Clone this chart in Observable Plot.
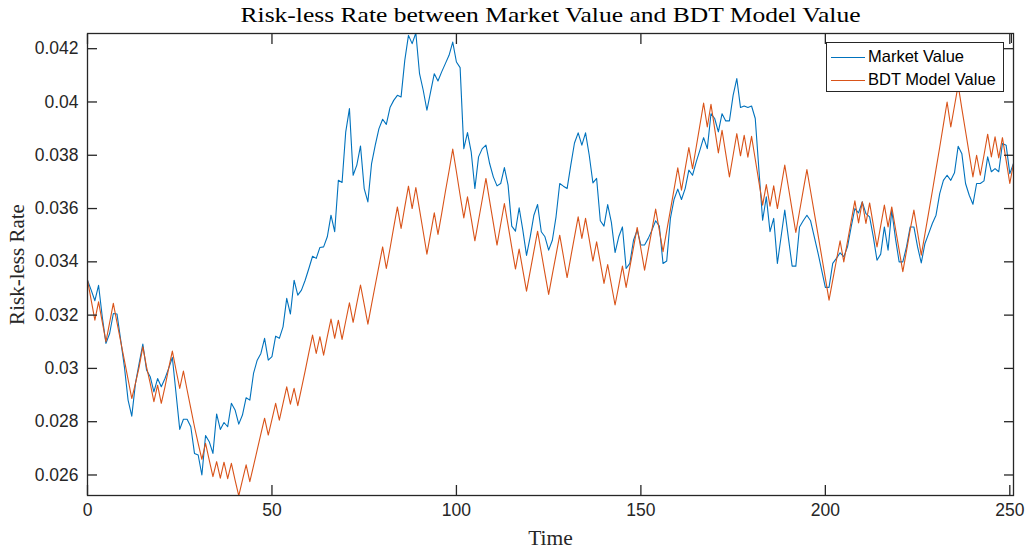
<!DOCTYPE html>
<html><head><meta charset="utf-8">
<script src="https://cdn.jsdelivr.net/npm/d3@7"></script>
<script src="https://cdn.jsdelivr.net/npm/@observablehq/plot@0.6"></script>
<style>
body{margin:0;background:#fff;}
#wrap{position:relative;width:1030px;height:551px;overflow:hidden;}
.legend{position:absolute;left:826px;top:42px;width:176px;height:48px;border:1.3px solid #262626;background:#fff;font-family:"Liberation Sans",Arial,sans-serif;font-size:16.5px;color:#000;}
.legend .row{position:absolute;left:0;height:20px;line-height:20px;white-space:nowrap;}
.legend .sw{display:inline-block;width:34px;height:0;border-top:1.2px solid;vertical-align:middle;margin-left:4px;margin-right:3px;}
.ghost{position:absolute;left:825px;top:33px;width:185px;height:9px;border:1.3px solid #262626;border-bottom:none;}
</style></head>
<body><div id="wrap"></div>
<script>
const titleText = "Risk-less Rate between Market Value and BDT Model Value";
const xLabel = "Time";
const yLabel = "Risk-less Rate";
const seriesNames = ["Market Value", "BDT Model Value"];
const seriesColors = ["#0072BD", "#D95319"];
const xTicks = [0, 50, 100, 150, 200, 250];
const xTickLabels = ["0", "50", "100", "150", "200", "250"];
const yTicks = [0.026, 0.028, 0.030, 0.032, 0.034, 0.036, 0.038, 0.040, 0.042];
const yTickLabels = ["0.026", "0.028", "0.03", "0.032", "0.034", "0.036", "0.038", "0.04", "0.042"];
const xDomain = [0, 251];
const yDomain = [0.02523, 0.04257];

const marketValue = [
0.03331,0.03294,0.03254,0.03312,0.03194,0.03094,0.03131,0.03206,0.03204,0.03106,
0.03006,0.02881,0.02821,0.02944,0.03019,0.03091,0.02994,0.02969,0.02912,0.02962,
0.02931,0.02962,0.03000,0.03041,0.02906,0.02771,0.02809,0.02809,0.02781,0.02681,
0.02675,0.02600,0.02748,0.02725,0.02681,0.02829,0.02771,0.02797,0.02781,0.02869,
0.02844,0.02791,0.02825,0.02890,0.02881,0.02981,0.03031,0.03056,0.03113,0.03031,
0.03044,0.03121,0.03113,0.03156,0.03263,0.03204,0.03331,0.03275,0.03294,0.03331,
0.03375,0.03421,0.03413,0.03454,0.03456,0.03494,0.03575,0.03513,0.03706,0.03698,
0.03888,0.03975,0.03725,0.03763,0.03835,0.03675,0.03625,0.03769,0.03838,0.03900,
0.03935,0.03916,0.03979,0.04006,0.04025,0.04019,0.04156,0.04250,0.04219,0.04259,
0.04106,0.04044,0.03969,0.04038,0.04106,0.04079,0.04113,0.04144,0.04175,0.04225,
0.04150,0.04129,0.03825,0.03885,0.03813,0.03675,0.03794,0.03825,0.03838,0.03769,
0.03719,0.03685,0.03694,0.03754,0.03688,0.03534,0.03515,0.03603,0.03519,0.03424,
0.03494,0.03575,0.03615,0.03513,0.03494,0.03444,0.03481,0.03569,0.03694,0.03684,
0.03675,0.03763,0.03846,0.03884,0.03838,0.03884,0.03800,0.03696,0.03713,0.03554,
0.03534,0.03615,0.03548,0.03435,0.03494,0.03531,0.03375,0.03394,0.03481,0.03519,
0.03463,0.03463,0.03488,0.03519,0.03554,0.03534,0.03394,0.03403,0.03563,0.03635,
0.03673,0.03634,0.03675,0.03744,0.03725,0.03775,0.03819,0.03866,0.03825,0.03956,
0.03938,0.03888,0.03956,0.03929,0.03929,0.04025,0.04088,0.03979,0.03985,0.03979,
0.03985,0.03938,0.03744,0.03556,0.03644,0.03513,0.03563,0.03394,0.03494,0.03594,
0.03488,0.03384,0.03384,0.03531,0.03554,0.03575,0.03554,0.03494,0.03434,0.03369,
0.03304,0.03304,0.03394,0.03413,0.03434,0.03419,0.03456,0.03531,0.03600,0.03584,
0.03625,0.03581,0.03569,0.03494,0.03406,0.03429,0.03531,0.03444,0.03594,0.03488,
0.03400,0.03400,0.03456,0.03531,0.03531,0.03456,0.03396,0.03469,0.03506,0.03544,
0.03575,0.03656,0.03706,0.03725,0.03706,0.03734,0.03834,0.03806,0.03694,0.03650,
0.03616,0.03694,0.03694,0.03704,0.03794,0.03738,0.03750,0.03738,0.03844,0.03838,
0.03731,0.03769
];

const bdtModelValue = [
0.03331,0.03256,0.03181,0.03250,0.03175,0.03100,0.03172,0.03244,0.03172,0.03101,
0.03030,0.02959,0.02887,0.02944,0.03006,0.03081,0.03006,0.02944,0.02875,0.02937,
0.02869,0.02931,0.03000,0.03065,0.02994,0.02925,0.02990,0.02919,0.02850,0.02781,
0.02719,0.02659,0.02719,0.02656,0.02594,0.02650,0.02588,0.02648,0.02586,0.02644,
0.02581,0.02522,0.02581,0.02638,0.02575,0.02634,0.02694,0.02754,0.02813,0.02750,
0.02809,0.02869,0.02806,0.02869,0.02931,0.02866,0.02925,0.02860,0.02925,0.02991,
0.03059,0.03125,0.03056,0.03119,0.03050,0.03119,0.03185,0.03113,0.03181,0.03109,
0.03178,0.03246,0.03173,0.03244,0.03313,0.03240,0.03166,0.03240,0.03313,0.03385,
0.03456,0.03375,0.03450,0.03529,0.03606,0.03525,0.03606,0.03684,0.03600,0.03679,
0.03596,0.03513,0.03429,0.03506,0.03584,0.03503,0.03581,0.03663,0.03741,0.03823,
0.03738,0.03650,0.03565,0.03644,0.03563,0.03479,0.03556,0.03634,0.03713,0.03629,
0.03546,0.03463,0.03541,0.03619,0.03538,0.03454,0.03373,0.03448,0.03369,0.03290,
0.03365,0.03440,0.03515,0.03435,0.03356,0.03278,0.03353,0.03426,0.03500,0.03421,
0.03341,0.03418,0.03494,0.03569,0.03488,0.03563,0.03484,0.03403,0.03475,0.03398,
0.03319,0.03390,0.03314,0.03238,0.03310,0.03384,0.03304,0.03379,0.03454,0.03529,
0.03449,0.03369,0.03445,0.03521,0.03598,0.03518,0.03438,0.03516,0.03594,0.03673,
0.03753,0.03669,0.03749,0.03829,0.03750,0.03831,0.03913,0.03996,0.03906,0.03991,
0.03900,0.03809,0.03894,0.03806,0.03719,0.03800,0.03881,0.03798,0.03875,0.03793,
0.03871,0.03785,0.03699,0.03613,0.03690,0.03609,0.03685,0.03600,0.03681,0.03763,
0.03679,0.03594,0.03510,0.03589,0.03668,0.03746,0.03665,0.03584,0.03503,0.03421,
0.03339,0.03256,0.03331,0.03406,0.03479,0.03400,0.03476,0.03553,0.03629,0.03546,
0.03625,0.03544,0.03621,0.03539,0.03456,0.03535,0.03613,0.03531,0.03606,0.03525,
0.03444,0.03363,0.03441,0.03521,0.03594,0.03510,0.03425,0.03505,0.03585,0.03665,
0.03748,0.03830,0.03915,0.04000,0.03906,0.03985,0.04063,0.03975,0.03890,0.03805,
0.03719,0.03800,0.03725,0.03800,0.03879,0.03794,0.03869,0.03790,0.03866,0.03781,
0.03694,0.03769
];

const time = marketValue.map((_, i) => i);

const axisColor = "#262626";
const tickFont = "'Liberation Sans', Arial, sans-serif";
const serifFont = "'Liberation Serif', 'Times New Roman', serif";

const chart = Plot.plot({
  width: 1030,
  height: 551,
  marginLeft: 87,
  marginRight: 17,
  marginTop: 33,
  marginBottom: 56,
  style: {background: "#fff", overflow: "visible"},
  x: {domain: xDomain, label: null},
  y: {domain: yDomain, label: null},
  marks: [
    Plot.line(marketValue, {x: (d, i) => time[i], y: d => d, stroke: seriesColors[0], strokeWidth: 1.1, clip: true}),
    Plot.line(bdtModelValue, {x: (d, i) => time[i], y: d => d, stroke: seriesColors[1], strokeWidth: 1.1, clip: true}),
    Plot.frame({stroke: axisColor, strokeWidth: 1.3}),
    Plot.axisX({anchor: "bottom", ticks: xTicks, tickSize: -10, tickPadding: 18, tickFormat: d => xTickLabels[xTicks.indexOf(d)], fontSize: 17.5, fontFamily: tickFont, fill: axisColor, stroke: axisColor, strokeWidth: 1.3, label: null}),
    Plot.axisX({anchor: "top", ticks: xTicks, tickSize: -10, tickFormat: () => "", stroke: axisColor, strokeWidth: 1.3, label: null}),
    Plot.axisY({anchor: "left", ticks: yTicks, tickSize: -10, tickPadding: 19, tickFormat: d => yTickLabels[yTicks.findIndex(t => Math.abs(t - d) < 1e-9)], fontSize: 17.5, fontFamily: tickFont, fill: axisColor, stroke: axisColor, strokeWidth: 1.3, label: null}),
    Plot.axisY({anchor: "right", ticks: yTicks, tickSize: -10, tickFormat: () => "", stroke: axisColor, strokeWidth: 1.3, label: null}),
    Plot.text([titleText], {text: d => d, frameAnchor: "top", dy: -19, fontSize: 22, fontFamily: serifFont, fill: "#000", lineAnchor: "middle", textAnchor: "middle"}),
    Plot.text([xLabel], {text: d => d, frameAnchor: "bottom", dy: 43, fontSize: 21.5, fontFamily: serifFont, fill: axisColor, lineAnchor: "middle", textAnchor: "middle"}),
    Plot.text([yLabel], {text: d => d, frameAnchor: "left", dx: -70, rotate: -90, fontSize: 21, fontFamily: serifFont, fill: axisColor, lineAnchor: "middle", textAnchor: "middle"})
  ]
});

const wrap = document.getElementById("wrap");
wrap.appendChild(chart);

// stretch the title to the width of the LaTeX-rendered original
chart.querySelectorAll("text").forEach(t => {
  if (t.textContent === titleText) {
    t.setAttribute("textLength", 620);
    t.setAttribute("lengthAdjust", "spacingAndGlyphs");
  }
});

const ghost = document.createElement("div");
ghost.className = "ghost";
wrap.appendChild(ghost);

const legend = document.createElement("div");
legend.className = "legend";
seriesNames.forEach((name, i) => {
  const row = document.createElement("div");
  row.className = "row";
  row.style.top = (i === 0 ? 3 : 25.5) + "px";
  const sw = document.createElement("span");
  sw.className = "sw";
  sw.style.borderTopColor = seriesColors[i];
  row.appendChild(sw);
  row.appendChild(document.createTextNode(name));
  legend.appendChild(row);
});
wrap.appendChild(legend);
</script>
</body></html>
